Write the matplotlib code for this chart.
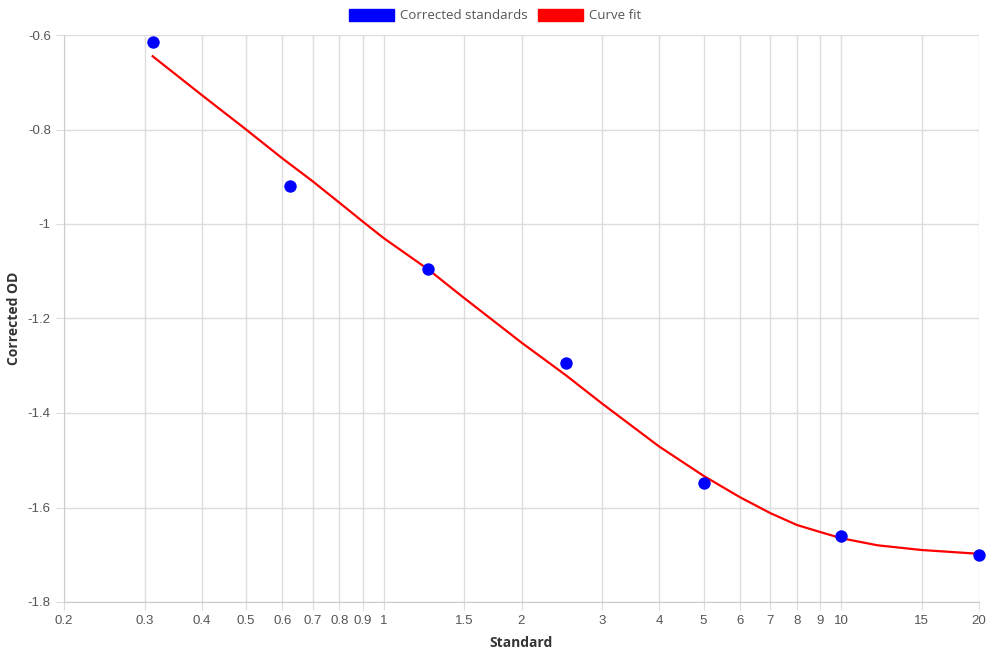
import matplotlib
matplotlib.use('Agg')
import matplotlib.pyplot as plt
from matplotlib.patches import Patch
from matplotlib.ticker import FixedLocator, FuncFormatter, NullLocator

# standards (x) and corrected OD
std_x = [0.3125, 0.625, 1.25, 2.5, 5, 10, 20]
std_y = [-0.615, -0.920, -1.095, -1.294, -1.548, -1.660, -1.700]

# curve fit
fit_x = [0.3125, 0.4, 0.5, 0.6, 0.7, 0.8, 0.9, 1.0, 1.25, 1.5, 2, 2.5, 3, 4, 5, 6, 7, 8, 9, 10, 12, 15, 20]
fit_y = [-0.645, -0.727, -0.800, -0.861, -0.910, -0.955, -0.995, -1.030, -1.096, -1.157, -1.251,
         -1.320, -1.380, -1.471, -1.533, -1.578, -1.612, -1.637, -1.652, -1.665, -1.680, -1.690, -1.698]

x_ticks = [0.2, 0.3, 0.4, 0.5, 0.6, 0.7, 0.8, 0.9, 1, 1.5, 2, 3, 4, 5, 6, 7, 8, 9, 10, 15, 20]
y_ticks = [-1.8, -1.6, -1.4, -1.2, -1.0, -0.8, -0.6]

grid_col = '#dddddd'
tick_col = '#555555'

fig = plt.figure(figsize=(9.9, 6.6), dpi=100)
ax = fig.add_axes([64/990, 1 - 602/660, (979 - 64)/990, (602 - 35)/660])

ax.plot(fit_x, fit_y, color='red', lw=1.6, zorder=3, clip_on=False, solid_joinstyle='round')
ax.scatter(std_x, std_y, s=80, color='blue', zorder=4, clip_on=False, linewidths=0)

ax.set_xscale('log')
ax.set_xlim(0.2, 20)
ax.set_ylim(-1.8, -0.6)
ax.xaxis.set_major_locator(FixedLocator(x_ticks))
ax.xaxis.set_minor_locator(NullLocator())
ax.xaxis.set_major_formatter(FuncFormatter(lambda v, p: f'{v:g}'))
ax.yaxis.set_major_locator(FixedLocator(y_ticks))
ax.yaxis.set_major_formatter(FuncFormatter(lambda v, p: f'{v:g}'))

ax.grid(True, color=grid_col, lw=1)
ax.set_axisbelow(True)
for s in ['top', 'right']:
    ax.spines[s].set_visible(False)
for s in ['left', 'bottom']:
    ax.spines[s].set_color('#cccccc')
ax.tick_params(axis='both', length=6, color=grid_col, labelcolor=tick_col, labelsize=9.5)
for lab in ax.get_xticklabels() + ax.get_yticklabels():
    lab.set_family('Liberation Sans')

ax.set_xlabel('Standard', fontsize=10, fontweight='bold', family='Open Sans', color='#333333', labelpad=6)
ax.set_ylabel('Corrected OD', fontsize=10, fontweight='bold', family='Open Sans', color='#333333', labelpad=5)

handles = [Patch(facecolor='blue', edgecolor='blue', label='Corrected standards'),
           Patch(facecolor='red', edgecolor='red', label='Curve fit')]
fig.legend(handles=handles, loc='upper center', bbox_to_anchor=(0.5, 1.005), ncol=2, frameon=False,
           handlelength=3.4, handleheight=1.1, handletextpad=0.45, columnspacing=0.8,
           prop={'family': 'Open Sans', 'size': 9.5}, labelcolor='#555555')

fig.savefig('out.png', dpi=100)
